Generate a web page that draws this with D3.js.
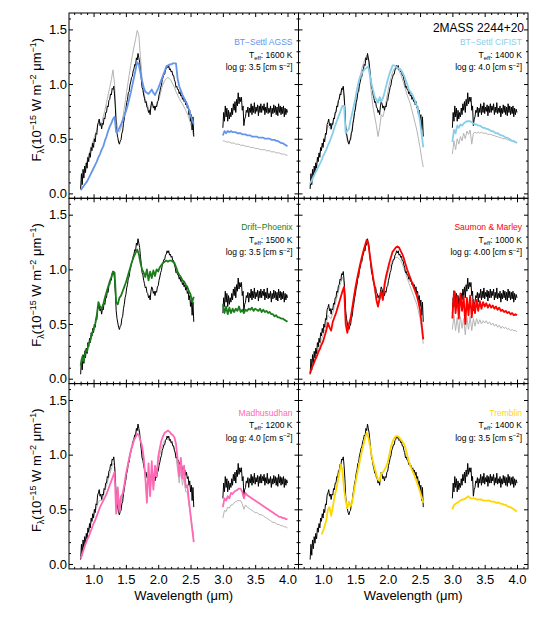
<!DOCTYPE html>
<html><head><meta charset="utf-8">
<script src="https://cdn.jsdelivr.net/npm/d3@7"></script>
<style>body{margin:0;background:#fff} text{font-family:"Liberation Sans",Arial,Helvetica,sans-serif}</style>
</head><body><svg id="c" width="538" height="619"></svg>
<script>
// ---------- data ----------
const modelNames = ["BT\u2212Settl AGSS","BT\u2212Settl CIFIST","Drift\u2212Phoenix","Saumon & Marley","Madhusudhan","Tremblin"];
const teffLabels = ["1600","1400","1500","1000","1200","1400"];
const loggLabels = ["3.5","4.0","3.5","4.00","4.0","3.5"];
const xMajorTicks = [1.0,1.5,2.0,2.5,3.0,3.5,4.0];
const yMajorTicks = [0.0,0.5,1.0,1.5];
const objectName = "2MASS 2244+20";

// observed spectrum (black), same in every panel, 0.0125 micron sampling
const obsNIR = [0.04,0.18,0.08,0.22,0.14,0.25,0.19,0.28,
0.23,0.33,0.29,0.37,0.33,0.42,0.39,0.46,
0.42,0.50,0.47,0.55,0.54,0.63,0.65,0.68,
0.62,0.64,0.59,0.64,0.63,0.69,0.68,0.74,
0.74,0.80,0.79,0.85,0.86,0.91,0.90,0.96,
0.95,0.98,0.90,0.78,0.62,0.55,0.51,0.47,
0.45,0.48,0.49,0.55,0.57,0.64,0.68,0.74,
0.77,0.83,0.86,0.92,0.93,0.99,1.02,1.06,
1.07,1.12,1.14,1.18,1.17,1.24,1.22,1.28,
1.24,1.20,1.12,1.05,0.97,0.95,0.90,0.87,
0.83,0.84,0.79,0.78,0.74,0.76,0.72,0.80,
0.84,0.82,0.78,0.80,0.76,0.80,0.79,0.84,
0.85,0.90,0.93,0.97,0.99,1.04,1.06,1.09,
1.09,1.13,1.14,1.17,1.15,1.17,1.13,1.14,
1.11,1.12,1.08,1.08,1.04,1.02,0.97,0.98,
0.95,0.95,0.91,0.93,0.89,0.90,0.86,0.88,
0.84,0.86,0.81,0.84,0.78,0.80,0.72,0.76,
0.66,0.72,0.58,0.70,0.52];
const obsL = [0.60,0.74,0.66,0.80,0.70,0.78,0.66,0.76,
0.68,0.74,0.70,0.78,0.72,0.82,0.76,0.84,
0.74,0.86,0.80,0.92,0.82,0.88,0.84,0.88,
0.76,0.80,0.62,0.68,0.70,0.76,0.74,0.79,
0.70,0.78,0.74,0.82,0.72,0.80,0.74,0.83,
0.73,0.79,0.75,0.81,0.71,0.80,0.74,0.82,
0.74,0.80,0.76,0.82,0.72,0.79,0.74,0.83,
0.73,0.78,0.74,0.80,0.70,0.78,0.73,0.81,
0.74,0.80,0.72,0.79,0.71,0.82,0.74,0.80,
0.72,0.79,0.73,0.80,0.70,0.78,0.72,0.77,
0.74];

// model spectra, 0.025 micron sampling
const agssNIR = [0.03,0.05,0.07,0.09,0.11,0.14,0.17,0.20,0.23,0.26,
0.29,0.33,0.36,0.40,0.43,0.48,0.52,0.57,0.61,0.64,
0.68,0.70,0.56,0.57,0.60,0.63,0.67,0.71,0.75,0.80,
0.86,0.92,0.99,1.06,1.13,1.20,1.18,1.10,1.03,0.97,
0.93,0.92,0.91,0.93,0.95,0.92,0.90,0.93,0.96,1.00,
1.04,1.08,1.12,1.16,1.17,1.18,1.18,1.19,1.19,1.19,
1.05,0.98,0.94,0.90,0.87,0.84,0.81,0.77,0.72,0.67,0.63];
const agssL = [0.53,0.57,0.55,0.57,0.56,0.57,0.56,0.56,0.56,0.55,
0.55,0.55,0.54,0.54,0.54,0.53,0.53,0.53,0.52,0.52,
0.52,0.52,0.51,0.51,0.51,0.51,0.50,0.50,0.50,0.50,
0.49,0.49,0.49,0.48,0.48,0.47,0.46,0.46,0.45,0.44,0.43];
const agssGrayNIR = [0.05,0.12,0.18,0.24,0.30,0.35,0.40,0.45,0.49,0.54,
0.58,0.64,0.65,0.64,0.70,0.76,0.83,0.90,0.97,1.04,
1.13,1.00,0.68,0.58,0.56,0.60,0.68,0.78,0.88,0.98,
1.08,1.17,1.26,1.34,1.41,1.49,1.45,1.25,1.05,0.93,
0.86,0.82,0.78,0.76,0.82,0.80,0.78,0.80,0.84,0.89,
0.95,1.00,1.03,1.05,1.06,1.05,1.03,1.00,0.97,0.93,
0.90,0.87,0.84,0.82,0.79,0.76,0.73,0.69,0.64,0.58,0.52];
const agssGrayL = [0.48,0.48,0.47,0.47,0.47,0.46,0.46,0.46,0.45,0.45,
0.45,0.44,0.44,0.44,0.43,0.43,0.43,0.42,0.42,0.42,
0.41,0.41,0.41,0.40,0.40,0.40,0.40,0.39,0.39,0.39,
0.38,0.38,0.38,0.37,0.37,0.37,0.36,0.36,0.36,0.35,0.35];

const cifistNIR = [0.09,0.12,0.15,0.18,0.21,0.24,0.27,0.30,0.34,0.37,
0.40,0.44,0.47,0.51,0.55,0.60,0.64,0.68,0.72,0.76,
0.80,0.80,0.55,0.57,0.59,0.67,0.73,0.80,0.87,0.95,
1.02,1.07,1.10,1.12,1.14,1.15,1.16,1.08,1.00,0.94,
0.88,0.86,0.83,0.88,0.84,0.87,0.92,0.98,1.04,1.09,
1.13,1.17,1.17,1.16,1.15,1.14,1.13,1.11,1.08,1.04,
1.00,0.95,0.93,0.91,0.88,0.84,0.80,0.75,0.66,0.54,0.42];
const cifistL = [0.47,0.58,0.55,0.62,0.60,0.63,0.62,0.64,0.65,0.66,
0.66,0.66,0.65,0.64,0.63,0.63,0.62,0.62,0.61,0.60,
0.60,0.59,0.59,0.58,0.57,0.57,0.56,0.55,0.55,0.54,
0.53,0.53,0.52,0.51,0.51,0.50,0.49,0.48,0.48,0.47,0.46];
const cifistGrayNIR = [0.06,0.12,0.17,0.22,0.27,0.32,0.37,0.42,0.46,0.50,
0.55,0.62,0.60,0.58,0.64,0.70,0.76,0.82,0.88,0.93,
0.97,0.88,0.58,0.48,0.46,0.52,0.60,0.70,0.80,0.90,
0.99,1.07,1.14,1.19,1.23,1.26,1.22,1.05,0.90,0.78,
0.70,0.62,0.52,0.60,0.72,0.70,0.76,0.84,0.92,1.00,
1.06,1.11,1.14,1.15,1.14,1.12,1.09,1.05,1.00,0.95,
0.90,0.86,0.82,0.76,0.70,0.64,0.58,0.50,0.42,0.32,0.24];
const cifistGrayL = [0.36,0.48,0.40,0.50,0.45,0.52,0.48,0.55,0.50,0.57,
0.54,0.58,0.45,0.55,0.56,0.55,0.56,0.55,0.56,0.55,
0.55,0.55,0.54,0.54,0.54,0.53,0.53,0.52,0.52,0.51,
0.51,0.50,0.50,0.50,0.49,0.49,0.48,0.48,0.47,0.47,0.46];

const driftNIR = [0.12,0.20,0.16,0.26,0.25,0.32,0.35,0.41,0.45,0.50,
0.58,0.70,0.66,0.64,0.68,0.74,0.79,0.84,0.89,0.93,
0.98,0.97,0.70,0.68,0.74,0.76,0.80,0.84,0.88,0.93,
0.98,1.03,1.08,1.12,1.15,1.18,1.14,1.06,1.00,0.97,
0.93,1.00,0.90,0.98,0.92,0.99,0.94,1.00,0.98,1.02,
1.04,1.06,1.07,1.08,1.07,1.08,1.08,1.07,1.06,1.02,
0.98,0.95,0.93,0.90,0.89,0.86,0.84,0.80,0.77,0.70,0.75];
const driftL = [0.68,0.60,0.66,0.59,0.65,0.60,0.64,0.61,0.64,0.62,
0.66,0.61,0.63,0.60,0.63,0.62,0.64,0.63,0.65,0.62,
0.64,0.63,0.62,0.64,0.61,0.63,0.61,0.62,0.60,0.61,
0.59,0.59,0.57,0.58,0.56,0.56,0.55,0.55,0.54,0.53,0.52];

const saumonNIR = [0.05,0.10,0.13,0.17,0.20,0.24,0.27,0.31,0.34,0.39,
0.44,0.51,0.47,0.44,0.52,0.56,0.60,0.65,0.70,0.75,
0.80,0.84,0.50,0.42,0.50,0.55,0.64,0.74,0.83,0.91,
0.98,1.05,1.11,1.17,1.22,1.27,1.24,1.12,1.02,0.92,
0.84,0.72,0.66,0.74,0.80,0.72,0.86,0.94,1.00,1.06,
1.11,1.16,1.18,1.20,1.21,1.20,1.17,1.14,1.10,1.05,
1.00,0.96,0.92,0.88,0.84,0.80,0.76,0.70,0.63,0.50,0.36];
const saumonL = [0.55,0.80,0.60,0.76,0.55,0.78,0.62,0.75,0.50,0.74,
0.58,0.76,0.56,0.72,0.60,0.72,0.62,0.71,0.64,0.70,
0.66,0.69,0.65,0.68,0.65,0.67,0.64,0.66,0.63,0.65,
0.62,0.63,0.61,0.62,0.60,0.61,0.59,0.60,0.58,0.59,0.58];
const saumonGrayNIR = [0.04,0.09,0.13,0.18,0.22,0.27,0.31,0.36,0.40,0.45,
0.50,0.58,0.56,0.55,0.60,0.65,0.71,0.77,0.83,0.88,
0.93,0.88,0.56,0.46,0.48,0.54,0.63,0.73,0.82,0.90,
0.98,1.05,1.11,1.17,1.22,1.26,1.23,1.11,0.99,0.89,
0.80,0.72,0.66,0.72,0.76,0.72,0.82,0.90,0.96,1.01,
1.05,1.08,1.10,1.11,1.11,1.10,1.08,1.05,1.01,0.97,
0.92,0.88,0.84,0.80,0.76,0.72,0.68,0.62,0.55,0.44,0.32];
const saumonGrayL = [0.45,0.58,0.44,0.56,0.42,0.57,0.46,0.55,0.40,0.56,
0.45,0.57,0.44,0.55,0.48,0.55,0.50,0.54,0.50,0.53,
0.51,0.53,0.50,0.52,0.49,0.51,0.48,0.50,0.47,0.49,
0.46,0.48,0.46,0.47,0.45,0.46,0.44,0.45,0.44,0.44,0.43];

const madhuNIR = [0.05,0.09,0.14,0.18,0.22,0.25,0.29,0.33,0.37,0.40,
0.44,0.48,0.52,0.55,0.58,0.61,0.64,0.68,0.72,0.76,
0.80,0.84,0.46,0.70,0.48,0.62,0.64,0.72,0.82,0.89,
0.96,1.03,1.08,1.13,1.16,1.19,1.18,1.13,1.08,0.98,
0.80,0.56,0.92,0.62,0.94,0.68,0.90,0.80,0.98,1.06,
1.13,1.17,1.20,1.21,1.22,1.21,1.19,1.18,1.16,1.10,
0.96,0.80,0.97,0.78,0.90,0.70,0.72,0.58,0.45,0.32,0.20];
const madhuL = [0.52,0.60,0.58,0.62,0.60,0.65,0.64,0.66,0.67,0.68,
0.69,0.69,0.66,0.60,0.65,0.63,0.62,0.61,0.60,0.59,
0.58,0.57,0.56,0.55,0.54,0.53,0.52,0.51,0.50,0.49,
0.48,0.47,0.46,0.45,0.44,0.43,0.43,0.42,0.42,0.41,0.41];
const madhuGrayNIR = [0.06,0.11,0.16,0.21,0.26,0.31,0.36,0.40,0.44,0.48,
0.52,0.57,0.58,0.58,0.62,0.67,0.72,0.77,0.82,0.87,
0.92,0.90,0.52,0.58,0.48,0.56,0.62,0.72,0.82,0.90,
0.98,1.05,1.11,1.16,1.20,1.24,1.22,1.12,1.02,0.92,
0.78,0.60,0.84,0.64,0.86,0.70,0.84,0.80,0.92,1.00,
1.06,1.10,1.13,1.14,1.14,1.13,1.11,1.09,1.05,0.98,
0.86,0.74,0.86,0.72,0.80,0.66,0.66,0.54,0.46,0.34,0.26];
const madhuGrayL = [0.42,0.49,0.48,0.52,0.51,0.54,0.54,0.56,0.57,0.58,
0.58,0.58,0.55,0.50,0.54,0.52,0.51,0.50,0.49,0.48,
0.47,0.47,0.46,0.45,0.45,0.44,0.43,0.42,0.41,0.40,
0.39,0.38,0.38,0.37,0.36,0.36,0.35,0.35,0.34,0.34,0.33];

const tremblinNIR = [null,null,null,null,null,null,null,0.27,0.30,0.35,
0.40,0.50,0.52,0.44,0.52,0.61,0.67,0.75,0.83,0.91,
0.85,0.68,0.58,0.51,0.57,0.53,0.56,0.65,0.74,0.82,
0.89,0.96,1.03,1.09,1.15,1.20,1.16,1.08,1.00,0.93,
0.87,0.82,0.77,0.76,0.83,0.84,0.86,0.89,0.93,1.00,
1.07,1.12,1.15,1.17,1.17,1.16,1.14,1.12,1.10,1.06,
1.00,0.94,0.90,0.86,0.83,0.79,0.75,0.71,0.66,0.61,0.56];
const tremblinL = [0.50,0.54,0.55,0.56,0.57,0.58,0.59,0.59,0.60,0.61,
0.62,0.60,0.60,0.60,0.60,0.59,0.59,0.59,0.59,0.58,
0.58,0.58,0.58,0.58,0.57,0.57,0.57,0.56,0.56,0.56,
0.55,0.55,0.54,0.54,0.53,0.52,0.52,0.51,0.50,0.49,0.48];

// wavelength grids (micron)
const wlObsNIR = d3.range(141).map(i => +(0.8 + 0.0125 * i).toFixed(4));
const wlObsL = d3.range(81).map(i => +(3.0 + 0.0125 * i).toFixed(4));
const wlNIR = d3.range(71).map(i => +(0.8 + 0.025 * i).toFixed(3));
const wlL = d3.range(41).map(i => +(3.0 + 0.025 * i).toFixed(3));

const modelColors = ["#6495ed","#87ceeb","#1b7d1b","#ff0000","#ff69b4","#ffd700"];

const panels = [
  {nir: agssNIR, l: agssL, gNir: agssGrayNIR, gL: agssGrayL},
  {nir: cifistNIR, l: cifistL, gNir: cifistGrayNIR, gL: cifistGrayL},
  {nir: driftNIR, l: driftL, gNir: null, gL: null},
  {nir: saumonNIR, l: saumonL, gNir: saumonGrayNIR, gL: saumonGrayL},
  {nir: madhuNIR, l: madhuL, gNir: madhuGrayNIR, gL: madhuGrayL},
  {nir: tremblinNIR, l: tremblinL, gNir: null, gL: null}
].map((p, i) => Object.assign(p, {name: modelNames[i], teff: teffLabels[i], logg: loggLabels[i], color: modelColors[i]}));

// ---------- drawing ----------
const svg = d3.select("#c");
svg.append("rect").attr("width", 538).attr("height", 619).attr("fill", "#fff");
const marginL = 69, marginT = 13, pw = 229.5, ph = 185.3;
const FONT = '"Liberation Sans", Arial, Helvetica, sans-serif';

const x = d3.scaleLinear().domain([0.62, 4.17]).range([0, pw]);
const y = d3.scaleLinear().domain([-0.045, 1.65]).range([ph, 0]);
const line = d3.line().defined(d => d[1] != null).x(d => x(d[0])).y(d => y(d[1]));
const pairs = (wl, v) => wl.map((w, i) => [w, v[i]]);

const xMinor = d3.range(7, 42).map(v => v / 10).filter(v => Math.abs(v * 2 - Math.round(v * 2)) > 1e-6);
const yMinor = d3.range(0, 17).map(v => v / 10).filter(v => Math.abs(v * 2 - Math.round(v * 2)) > 1e-6);

svg.append("defs").append("clipPath").attr("id", "clip")
  .append("rect").attr("width", pw).attr("height", ph);

panels.forEach((p, i) => {
  const col = i % 2, row = Math.floor(i / 2);
  const g = svg.append("g").attr("transform", `translate(${marginL + col * pw},${marginT + row * ph})`);
  const dg = g.append("g").attr("clip-path", "url(#clip)");

  const drawSeg = (wl, vals, color, w) => {
    dg.append("path").datum(pairs(wl, vals)).attr("d", line)
      .attr("fill", "none").attr("stroke", color).attr("stroke-width", w)
      .attr("stroke-linejoin", "round");
  };
  if (p.gNir) { drawSeg(wlNIR, p.gNir, "#b4b4b4", 1); drawSeg(wlL, p.gL, "#b4b4b4", 1); }
  drawSeg(wlObsNIR, obsNIR, "#000", 1);
  drawSeg(wlObsL, obsL, "#000", 1);
  drawSeg(wlNIR, p.nir, p.color, 1.8);
  drawSeg(wlL, p.l, p.color, 1.8);

  // axes
  const styleAxis = sel => { sel.select(".domain").remove(); sel.attr("font-family", FONT).attr("font-size", 13); sel.selectAll("line").attr("stroke-width", 1); };
  g.append("g").attr("transform", `translate(0,${ph})`)
    .call(d3.axisBottom(x).tickValues(xMajorTicks).tickSize(-4).tickSizeOuter(0).tickPadding(6)
      .tickFormat(row === 2 ? d3.format(".1f") : () => "")).call(styleAxis);
  g.append("g").attr("transform", `translate(0,${ph})`)
    .call(d3.axisBottom(x).tickValues(xMinor).tickSize(-2).tickSizeOuter(0).tickFormat(() => "")).call(styleAxis);
  g.append("g")
    .call(d3.axisTop(x).tickValues(xMajorTicks).tickSize(-4).tickSizeOuter(0).tickFormat(() => "")).call(styleAxis);
  g.append("g")
    .call(d3.axisTop(x).tickValues(xMinor).tickSize(-2).tickSizeOuter(0).tickFormat(() => "")).call(styleAxis);
  g.append("g")
    .call(d3.axisLeft(y).tickValues(yMajorTicks).tickSize(-4).tickSizeOuter(0).tickPadding(2)
      .tickFormat(col === 0 ? d3.format(".1f") : () => "")).call(styleAxis);
  g.append("g")
    .call(d3.axisLeft(y).tickValues(yMinor).tickSize(-2).tickSizeOuter(0).tickFormat(() => "")).call(styleAxis);
  g.append("g").attr("transform", `translate(${pw},0)`)
    .call(d3.axisRight(y).tickValues(yMajorTicks).tickSize(-4).tickSizeOuter(0).tickFormat(() => "")).call(styleAxis);
  g.append("g").attr("transform", `translate(${pw},0)`)
    .call(d3.axisRight(y).tickValues(yMinor).tickSize(-2).tickSizeOuter(0).tickFormat(() => "")).call(styleAxis);

  g.append("rect").attr("width", pw).attr("height", ph).attr("fill", "none").attr("stroke", "#000").attr("stroke-width", 1);

  // legend
  const lx = pw - 6;
  if (i === 1) {
    g.append("text").attr("x", pw - 4).attr("y", 18.5).attr("text-anchor", "end")
      .attr("font-size", 12).attr("fill", "#000").text(objectName);
  }
  g.append("text").attr("x", lx).attr("y", 32).attr("text-anchor", "end")
    .attr("font-size", 8.5).attr("fill", p.color).text(p.name);
  const t2 = g.append("text").attr("x", lx).attr("y", 44.5).attr("text-anchor", "end").attr("font-size", 8.5).attr("fill", "#000");
  t2.append("tspan").text("T");
  t2.append("tspan").attr("font-size", 6).attr("dy", 2).text("eff");
  t2.append("tspan").attr("dy", -2).text(": " + p.teff + " K");
  const t3 = g.append("text").attr("x", lx).attr("y", 57).attr("text-anchor", "end").attr("font-size", 8.5).attr("fill", "#000");
  t3.append("tspan").text("log g: " + p.logg + " [cm s");
  t3.append("tspan").attr("font-size", 6).attr("dy", -3.5).text("\u22122");
  t3.append("tspan").attr("dy", 3.5).text("]");
});

// axis titles
[0, 1].forEach(col => {
  svg.append("text").attr("x", marginL + col * pw + pw / 2).attr("y", 600)
    .attr("text-anchor", "middle").attr("font-size", 13).attr("fill", "#000").text("Wavelength (\u03bcm)");
});
[0, 1, 2].forEach(row => {
  const t = svg.append("text").attr("transform", `translate(41,${marginT + row * ph + ph / 2 - 6}) rotate(-90)`)
    .attr("text-anchor", "middle").attr("font-size", 13).attr("fill", "#000");
  t.append("tspan").text("F");
  t.append("tspan").attr("font-size", 9).attr("dy", 3).text("\u03bb");
  t.append("tspan").attr("dy", -3).text("(10");
  t.append("tspan").attr("font-size", 9).attr("dy", -5).text("\u221215");
  t.append("tspan").attr("dy", 5).text(" W m");
  t.append("tspan").attr("font-size", 9).attr("dy", -5).text("\u22122");
  t.append("tspan").attr("dy", 5).text(" \u03bcm");
  t.append("tspan").attr("font-size", 9).attr("dy", -5).text("\u22121");
  t.append("tspan").attr("dy", 5).text(")");
});
</script>
</body></html>
